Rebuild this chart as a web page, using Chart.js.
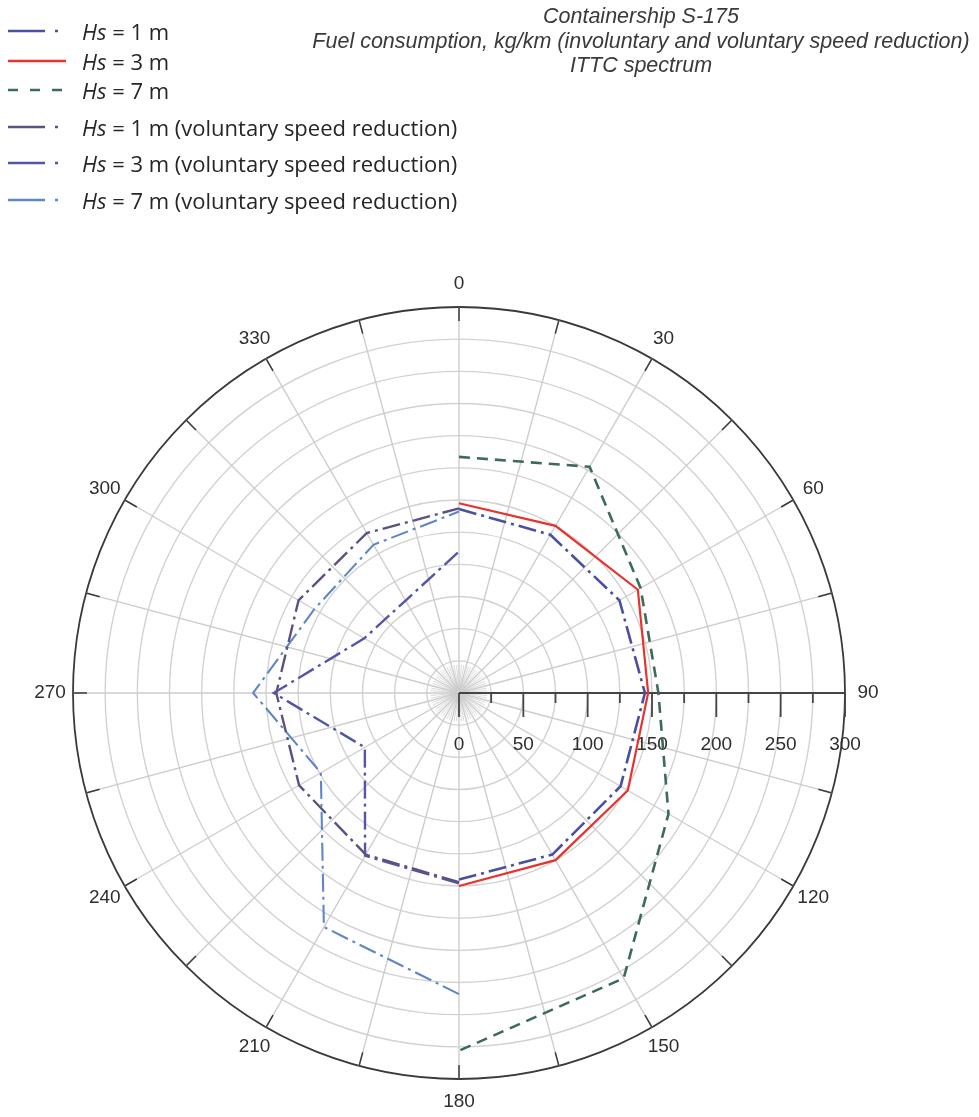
<!DOCTYPE html>
<html>
<head>
<meta charset="utf-8">
<script src="https://cdn.jsdelivr.net/npm/chart.js@4.4.1/dist/chart.umd.min.js"></script>
<style>
  html, body { margin: 0; padding: 0; background: #ffffff; }
  #wrap { position: relative; width: 979px; height: 1117px; overflow: hidden; }
  #chart { position: absolute; left: 0; top: 0; }
  .title { position: absolute; left: 300px; width: 682px; text-align: center;
           font: italic 21.5px "Liberation Sans", Arial, sans-serif; color: #3a3a3a; line-height: 24px; }
  .row { position: absolute; left: 0; height: 30px;
         font: 22px "Open Sans", sans-serif; color: #262626; white-space: nowrap; }
  .row svg { position: absolute; left: 8px; top: 10px; }
  .row span { position: absolute; left: 82px; top: 0; line-height: 30px; }
</style>
</head>
<body>
<div id="wrap">
  <canvas id="chart" width="979" height="1117"></canvas>
  <div id="title"></div>
  <div id="legend"></div>
</div>
<script>
// Headings (degrees, clockwise from north)
const angleLabels = ['0', '30', '60', '90', '120', '150', '180', '210', '240', '270', '300', '330'];
// Radial axis tick labels, kg/km
const radialTicks = [0, 50, 100, 150, 200, 250, 300];

// Fuel consumption, kg/km, involuntary speed loss (starboard half, 0..180)
const hs1 = [143, 142, 144, 144.5, 145, 145, 145, null, null, null, null, null];
const hs3 = [147.5, 150, 160.5, 147, 151.5, 150, 150, null, null, null, null, null];
const hs7 = [183.5, 203, 163, 155, 188, 256, 278, null, null, null, null, null];

// Fuel consumption, kg/km, with voluntary speed reduction (port half, 180..360)
const hs1Vol = [143.5, null, null, null, null, null, 147, 145, 143.5, 142, 144, 143.5];
const hs3Vol = [110, null, null, null, null, null, 148, 146, 84.5, 144, 85, 83];
const hs7Vol = [141, null, null, null, null, null, 234, 210, 124, 160, 130, 133];

const titleLines = [
  'Containership S-175',
  'Fuel consumption, kg/km (involuntary and voluntary speed reduction)',
  'ITTC spectrum'
];

const series = [
  { name: '1 m', data: hs1, color: '#4a4f9e', width: 2.6, dash: [18, 5, 3, 5], swatch: '37 10 3 10' },
  { name: '3 m', data: hs3, color: '#e8322e', width: 2.2, dash: [], swatch: '' },
  { name: '7 m', data: hs7, color: '#3d6b56', width: 2.6, dash: [11, 7], swatch: '10 12' },
  { name: '1 m (voluntary speed reduction)', data: hs1Vol, color: '#5a5282', width: 2.4, dash: [18, 5, 3, 5], swatch: '37 10 3 10' },
  { name: '3 m (voluntary speed reduction)', data: hs3Vol, color: '#5356a6', width: 2.4, dash: [18, 5, 3, 5], swatch: '37 10 3 10' },
  { name: '7 m (voluntary speed reduction)', data: hs7Vol, color: '#5f86c6', width: 2.1, dash: [18, 5, 3, 5], swatch: '37 10 3 10' }
];

// Title block
const titleEl = document.getElementById('title');
const titleTops = [4, 29, 53];
titleLines.forEach((t, i) => {
  const d = document.createElement('div');
  d.className = 'title';
  d.style.top = titleTops[i] + 'px';
  d.textContent = t;
  titleEl.appendChild(d);
});

// Legend block
const legendEl = document.getElementById('legend');
const rowCenters = [31, 61, 90, 127, 163, 200];
series.forEach((s, i) => {
  const row = document.createElement('div');
  row.className = 'row';
  row.style.top = (rowCenters[i] - 15) + 'px';
  row.innerHTML =
    '<svg width="60" height="10"><line x1="0" y1="5" x2="58" y2="5" stroke="' + s.color +
    '" stroke-width="2.6"' + (s.swatch ? ' stroke-dasharray="' + s.swatch + '"' : '') + '/></svg>' +
    '<span><i>Hs</i> = ' + s.name + '</span>';
  legendEl.appendChild(row);
});

const rad = deg => deg * Math.PI / 180;

// Polar frame: spokes, rim ticks, the 90-degree value axis and all axis labels
const polarFrame = {
  id: 'polarFrame',
  beforeDatasetsDraw(chart) {
    const s = chart.scales.r;
    const ctx = chart.ctx;
    const cx = s.xCenter, cy = s.yCenter, R = s.drawingArea;
    // position at a heading (deg, clockwise from north) and a distance from the pole
    const at = (deg, dist) => s.getPointPosition(0, dist, rad(deg));
    ctx.save();
    ctx.lineCap = 'butt';

    // fine spokes around the pole
    ctx.strokeStyle = 'rgba(175,175,175,0.6)';
    ctx.lineWidth = 0.8;
    const inner = s.getDistanceFromCenterForValue(22);
    for (let a = 0; a < 360; a += 5) {
      if (a % 15 === 0) continue;
      const p = at(a, inner);
      ctx.beginPath(); ctx.moveTo(cx, cy); ctx.lineTo(p.x, p.y); ctx.stroke();
    }

    // spokes every 15 degrees
    ctx.strokeStyle = '#cdcdcd';
    ctx.lineWidth = 1.4;
    for (let a = 0; a < 360; a += 15) {
      const p = at(a, R);
      ctx.beginPath(); ctx.moveTo(cx, cy); ctx.lineTo(p.x, p.y); ctx.stroke();
    }

    // dark ticks on the inside of the rim
    ctx.strokeStyle = '#3a3a3a';
    ctx.lineWidth = 1.5;
    for (let a = 0; a < 360; a += 15) {
      const p0 = at(a, R - 14);
      const p1 = at(a, R);
      ctx.beginPath(); ctx.moveTo(p0.x, p0.y); ctx.lineTo(p1.x, p1.y); ctx.stroke();
    }

    // value axis along 90 degrees
    const end = at(90, R);
    ctx.strokeStyle = '#454545';
    ctx.lineWidth = 2;
    ctx.beginPath(); ctx.moveTo(cx, cy); ctx.lineTo(end.x, end.y); ctx.stroke();
    ctx.lineWidth = 1.8;
    for (let v = 0; v <= 300; v += 25) {
      const p = at(90, s.getDistanceFromCenterForValue(v));
      const len = v % 50 === 0 ? 24 : 10;
      ctx.beginPath(); ctx.moveTo(p.x, p.y); ctx.lineTo(p.x, p.y + len); ctx.stroke();
    }
    ctx.fillStyle = '#2e2e2e';
    ctx.font = '19px "Liberation Sans", Arial, sans-serif';
    ctx.textAlign = 'center';
    ctx.textBaseline = 'middle';
    radialTicks.forEach(v => {
      const p = at(90, s.getDistanceFromCenterForValue(v));
      ctx.fillText(String(v), p.x, p.y + 52);
    });

    // heading labels round the rim
    angleLabels.forEach((lab, i) => {
      const p = s.getPointPosition(i, R + 23);
      ctx.fillText(lab, p.x, p.y);
    });
    ctx.restore();
  }
};

new Chart(document.getElementById('chart'), {
  type: 'radar',
  data: {
    labels: angleLabels,
    datasets: series.map(s => ({
      label: 'Hs = ' + s.name,
      data: s.data,
      borderColor: s.color,
      borderWidth: s.width,
      borderDash: s.dash,
      fill: false,
      spanGaps: false,
      pointRadius: 0,
      tension: 0
    }))
  },
  options: {
    responsive: false,
    animation: false,
    layout: { padding: { left: 73, top: 307, right: 134, bottom: 38 } },
    plugins: { legend: { display: false }, tooltip: { enabled: false }, title: { display: false } },
    elements: { line: { borderJoinStyle: 'miter', borderCapStyle: 'butt' } },
    scales: {
      r: {
        min: 0,
        max: 300,
        startAngle: 0,
        ticks: { display: false, stepSize: 25 },
        grid: {
          circular: true,
          color: c => c.tick.value === 300 ? '#3a3a3a' : '#d2d2d2',
          lineWidth: c => c.tick.value === 300 ? 1.8 : 1.4
        },
        angleLines: { display: false },
        pointLabels: { display: false }
      }
    }
  },
  plugins: [polarFrame]
});
</script>
</body>
</html>
